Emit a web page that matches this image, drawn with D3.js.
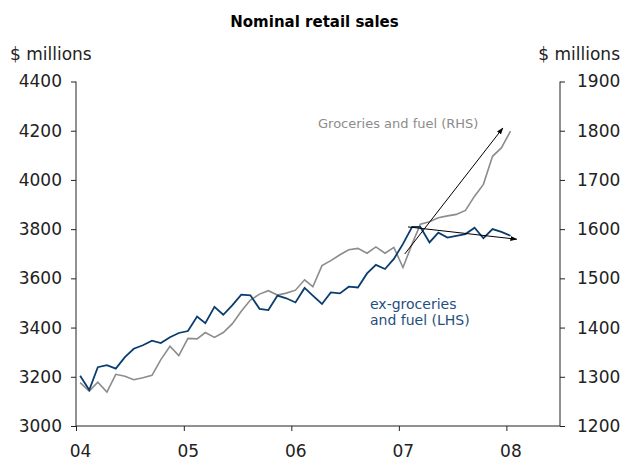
<!DOCTYPE html>
<html>
<head>
<meta charset="utf-8">
<script src="https://cdn.jsdelivr.net/npm/d3@7"></script>
<style>
	body { margin: 0; background: #fff; }
	text { font-family: "DejaVu Sans", Verdana, sans-serif; }
	.axis line { stroke: #222; }
	.axis text { font-size: 17px; fill: #222; }
</style>
</head>
<body>
<svg id="chart"></svg>
<script>
// Monthly values, Jan 2004 to Jan 2008
const startYear = 2004;
const exGroceries = [3204,3146,3239,3247,3233,3280,3314,3328,3347,3337,
	3361,3378,3386,3445,3418,3484,3452,3491,3534,3531,
	3476,3471,3530,3519,3502,3561,3530,3496,3543,3539,
	3566,3563,3620,3655,3638,3679,3740,3809,3809,3746,
	3786,3766,3773,3780,3806,3763,3800,3789,3773];
const groceries = [1288,1271,1289,1269,1305,1301,1294,1298,1303,1335,
	1362,1343,1378,1377,1390,1380,1390,1408,1433,1456,
	1468,1475,1466,1470,1476,1497,1483,1526,1536,1548,
	1558,1561,1551,1564,1551,1563,1522,1570,1610,1615,
	1623,1627,1630,1638,1667,1691,1748,1765,1799];
const yearTicks = [2004, 2005, 2006, 2007, 2008];
const leftTicks = [3000, 3200, 3400, 3600, 3800, 4000, 4200, 4400];
const rightTicks = [1200, 1300, 1400, 1500, 1600, 1700, 1800, 1900];
// trend arrows drawn on the LHS scale: [date, value] pairs
const arrows = [
	[[new Date(2007, 0, 21), 3699], [new Date(2007, 11, 20), 4211]],
	[[new Date(2007, 1, 1), 3809], [new Date(2008, 1, 5), 3759]]
];

const svgWidth = 629, svgHeight = 461;
const margin = {top: 81.5, right: 69, bottom: 35, left: 76};
const width = svgWidth - margin.left - margin.right,
	height = svgHeight - margin.top - margin.bottom;

const svg = d3.select("#chart")
	.attr("width", svgWidth)
	.attr("height", svgHeight);

svg.append("defs").append("marker")
	.attr("id", "head")
	.attr("viewBox", "0 0 10 10")
	.attr("refX", 9).attr("refY", 5)
	.attr("markerWidth", 7).attr("markerHeight", 7)
	.attr("orient", "auto")
	.append("path")
	.attr("d", "M0,1.5 L10,5 L0,8.5 z")
	.attr("fill", "#000");

const g = svg.append("g")
	.attr("transform", "translate(" + margin.left + "," + margin.top + ")");

// Scales
const x = d3.scaleTime()
	.domain([new Date(2004, 0, 1), new Date(2008, 6, 1)])
	.range([0, width]);
const yL = d3.scaleLinear().domain([3000, 4400]).range([height, 0]);
const yR = d3.scaleLinear().domain([1200, 1900]).range([height, 0]);

const dateOf = i => new Date(startYear, i, 15);

// Axes
g.append("g")
	.attr("class", "axis")
	.call(d3.axisLeft(yL).tickValues(leftTicks).tickFormat(d3.format("d"))
		.tickSize(5).tickPadding(9));

g.append("g")
	.attr("class", "axis")
	.attr("transform", "translate(" + width + ",0)")
	.call(d3.axisRight(yR).tickValues(rightTicks).tickFormat(d3.format("d"))
		.tickSize(5).tickPadding(12));

g.append("g")
	.attr("class", "axis x")
	.attr("transform", "translate(0," + height + ")")
	.call(d3.axisBottom(x)
		.tickValues(yearTicks.map(y => new Date(y, 0, 1)))
		.tickFormat(d3.timeFormat("%y"))
		.tickSize(5).tickPadding(14))
	.selectAll("text").attr("dx", 4);

// plain axis lines, without the end caps d3 draws
g.selectAll(".axis .domain").remove();
g.append("path").attr("d", "M0,0V" + height + "H" + width + "V0")
	.attr("fill", "none").attr("stroke", "#222");

// Series
const lineL = d3.line().x((d, i) => x(dateOf(i))).y(d => yL(d));
const lineR = d3.line().x((d, i) => x(dateOf(i))).y(d => yR(d));

g.append("path")
	.datum(groceries)
	.attr("d", lineR)
	.attr("fill", "none")
	.attr("stroke", "#8c8c8c")
	.attr("stroke-width", 1.6);

g.append("path")
	.datum(exGroceries)
	.attr("d", lineL)
	.attr("fill", "none")
	.attr("stroke", "#0b3c6e")
	.attr("stroke-width", 1.8);

// Trend arrows
g.selectAll(".arrow")
	.data(arrows)
	.enter().append("line")
	.attr("class", "arrow")
	.attr("x1", d => x(d[0][0])).attr("y1", d => yL(d[0][1]))
	.attr("x2", d => x(d[1][0])).attr("y2", d => yL(d[1][1]))
	.attr("stroke", "#000")
	.attr("stroke-width", 1)
	.attr("marker-end", "url(#head)");

// Labels
svg.append("text")
	.attr("x", svgWidth / 2).attr("y", 27)
	.attr("text-anchor", "middle")
	.style("font-size", "15px").style("font-weight", "bold")
	.text("Nominal retail sales");

svg.append("text").attr("x", 10).attr("y", 60)
	.style("font-size", "17px").attr("fill", "#222").text("$ millions");
svg.append("text").attr("x", 620).attr("y", 60).attr("text-anchor", "end")
	.style("font-size", "17px").attr("fill", "#222").text("$ millions");

svg.append("text").attr("x", 318).attr("y", 128)
	.style("font-size", "13px").attr("fill", "#8c8c8c")
	.text("Groceries and fuel (RHS)");

svg.append("text").attr("x", 370).attr("y", 309)
	.style("font-size", "14px").attr("fill", "#1f4f80")
	.text("ex-groceries");
svg.append("text").attr("x", 370).attr("y", 325)
	.style("font-size", "14px").attr("fill", "#1f4f80")
	.text("and fuel (LHS)");
</script>
</body>
</html>
